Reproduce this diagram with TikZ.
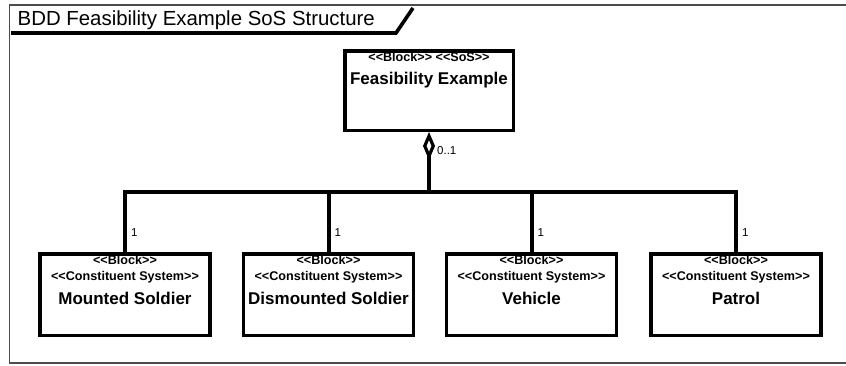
\documentclass[tikz,border=0pt]{standalone}
\usepackage{fontspec}
\setmainfont{Liberation Sans}[Ligatures=TeXOff]
\usetikzlibrary{arrows.meta,shadows}

\tikzset{
  frameline/.style={draw=black!70, line width=1.1pt},
  tabline/.style={line width=3.6pt, line join=miter},
  block/.style={draw, fill=white, line width=3.5pt, rectangle, inner sep=0pt,
    drop shadow={shadow xshift=1.6pt, shadow yshift=-1.6pt, fill=black!45, opacity=1}},
  topblock/.style={block, minimum width=168.5pt, minimum height=79.5pt},
  partblock/.style={block, minimum width=170pt, minimum height=81.5pt},
  stereo/.style={inner sep=0pt, font=\fontsize{12.6}{14}\selectfont\bfseries},
  blockname/.style={inner sep=0pt, font=\fontsize{17}{20}\selectfont\bfseries},
  mult/.style={inner sep=0pt, anchor=west, font=\fontsize{11.5}{13}\selectfont},
  conn/.style={line width=4pt, line join=miter},
}

\begin{document}
\begin{tikzpicture}[x=1pt, y=-1pt]
  \useasboundingbox (0,0) rectangle (846,365);

  % diagram frame (open on the right)
  \draw[frameline] (846,5) -- (9.5,5) -- (9.5,363) -- (846,363);

  % heading tab
  \node (title) [inner sep=0pt, anchor=base west, font=\fontsize{20.4}{24}\selectfont]
    at (17.5,25.5) {BDD Feasibility Example SoS Structure};
  \coordinate (tabL) at (11,33);
  \coordinate (tabK) at (396,33);
  \coordinate (tabT) at (413,8);
  \draw[tabline] (tabL) -- (tabK) -- (tabT);

  % the system of systems
  \node (sos) [topblock] at (429,90.5) {};
  \node (sosSt) [stereo] at ([yshift=-8pt]sos.north) {<<Block>> <<SoS>>};
  \node (sosNm) [blockname] at ([yshift=-31pt]sos.north) {Feasibility Example};

  % constituent systems
  \foreach \id/\cx/\nm in {ms/125/Mounted Soldier, ds/328.5/Dismounted Soldier,
                           ve/531.5/Vehicle, pa/736/Patrol}{
    \node (\id) [partblock] at (\cx,294.5) {};
    \node (\id St) [stereo] at ([yshift=-8pt]\id.north) {<<Block>>};
    \node (\id Cs) [stereo] at ([yshift=-25pt]\id.north) {<<Constituent System>>};
    \node (\id Nm) [blockname] at ([yshift=-46pt]\id.north) {\nm};
    \node (\id Mu) [mult] at ([xshift=6pt,yshift=19pt]\id.north) {1};
  }

  % aggregation bus
  \coordinate (bus) at (429,192);
  \draw[conn] (ms.north) |- (bus) -| (pa.north);
  \draw[conn] (ds.north) -- (ds.north |- bus);
  \draw[conn] (ve.north) -- (ve.north |- bus);
  \draw[conn, {Diamond[open, length=28pt, width=12pt, line width=3.2pt]}-]
    (sos.south) -- (bus);
  \node (sosMu) [mult] at ([xshift=8pt,yshift=-19pt]sos.south) {0..1};
\end{tikzpicture}
\end{document}
